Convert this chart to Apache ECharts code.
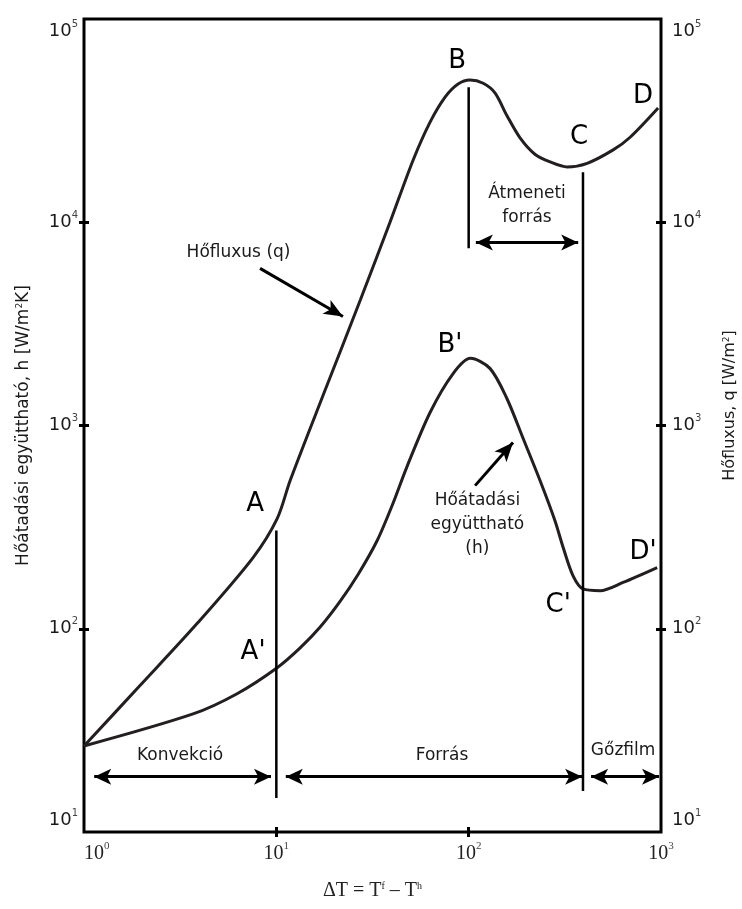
<!DOCTYPE html>
<html>
<head>
<meta charset="utf-8">
<script src="https://cdn.jsdelivr.net/npm/echarts@6/dist/echarts.min.js"></script>
<style>
  html, body { margin: 0; padding: 0; background: #fff; }
  #chart { width: 742px; height: 909px; }
</style>
</head>
<body>
<div id="chart"></div>
<script>
// Boiling curve: heat flux q and heat transfer coefficient h against ΔT (log-log)

// Heat flux q [W/m²]
const fluxDT = [1, 1.95, 3.87, 7.57, 10.1, 11.8, 17.9, 27.3, 39.0, 51.4, 63.0, 75.4, 88.1, 101.7, 119, 137, 158, 185, 221, 265, 325, 413, 564, 691, 966];
const fluxQ  = [26.5, 52.4, 106, 224, 348, 536, 1486, 4130, 10000, 20200, 31100, 41300, 47900, 50100, 48300, 43300, 33500, 26000, 21600, 19800, 18700, 19500, 22700, 26200, 36500];

// Heat transfer coefficient h [W/m²K]
const coefDT = [1, 3.69, 6.25, 10.1, 13.3, 16.9, 21.4, 26.6, 33.4, 40.0, 47.8, 63.0, 83.0, 102, 129, 158, 192, 235, 281, 310, 349, 393, 482, 635, 955];
const coefH  = [26.5, 38.1, 47.9, 64.3, 80.5, 102, 136, 185, 271, 404, 628, 1159, 1800, 2140, 1910, 1358, 863, 536, 340, 251, 182, 157, 154, 169, 200];

// Regime boundaries: [ΔT, lower end, upper end]
const boundaries = [
  [10, 14.7, 304],
  [100, 7450, 46200],
  [393, 15.9, 17600]
];

// Double-headed span arrows: [from ΔT, to ΔT, level]
const spans = [
  [1.13, 9.38, 18.7],   // Konvekció
  [11.2, 389, 18.7],    // Forrás
  [433, 977, 18.7],     // Gőzfilm
  [109, 371, 7960]      // Átmeneti forrás
];

// Pointer arrows: [from ΔT, from value, to ΔT, to value]
const pointers = [
  [8.23, 5930, 22.2, 3440],   // to q curve
  [108, 506, 170, 824]        // to h curve
];

// Point letters
const pointNames = ['A', 'B', 'C', 'D', "A'", "B'", "C'", "D'"];
const pointX = [7.75, 87.1, 375, 807, 7.57, 80, 292, 807];
const pointY = [408, 62100, 26200, 41800, 76.2, 2480, 131, 237];

// Region / curve captions
const captionText = ['Hőfluxus (q)', 'Átmeneti\nforrás', 'Hőátadási\negyüttható\n(h)', 'Konvekció', 'Forrás', 'Gőzfilm'];
const captionX = [6.36, 201, 111, 3.16, 72.7, 635];
const captionY = [7110, 12100, 325, 23.7, 23.7, 25.1];

const SANS = 'DejaVu Sans';
const SERIF = 'Liberation Serif';
const INK = '#231f20';
const TEXT = '#1a1a1a';

function powLabel(v) {
  const e = Math.round(Math.log10(v));
  return '{b|10}{s|' + e + '}';
}

const yLabelRich = {
  b: { fontFamily: SANS, fontSize: 18, color: TEXT, lineHeight: 24 },
  s: { fontFamily: SANS, fontSize: 10, color: '#444', verticalAlign: 'top' }
};
const xLabelRich = {
  b: { fontFamily: SERIF, fontSize: 20, color: '#222', lineHeight: 26 },
  s: { fontFamily: SERIF, fontSize: 11, color: '#444', verticalAlign: 'top' }
};

const tickStyle = { show: true, inside: false, length: 10, lineStyle: { color: '#000', width: 3 } };

function yAxisDef(pos, margin, nameGap, name, namePad, nameSize) {
  return {
    type: 'log', logBase: 10, min: 10, max: 100000,
    position: pos, offset: -5,
    axisLine: { show: false },
    axisTick: Object.assign({ customValues: [100, 1000, 10000] }, tickStyle),
    splitLine: { show: false },
    axisLabel: {
      margin: margin,
      formatter: powLabel,
      rich: yLabelRich,
      verticalAlignMinLabel: 'bottom',
      verticalAlignMaxLabel: 'top'
    },
    name: name,
    nameLocation: 'middle',
    nameGap: nameGap,
    nameTextStyle: {
      padding: namePad,
      rich: {
        n: { fontFamily: SANS, fontSize: nameSize, color: TEXT },
        s: { fontFamily: SANS, fontSize: 9, color: TEXT, verticalAlign: 'top' }
      }
    }
  };
}

const series = [
  {
    name: 'q', type: 'line', smooth: 0.3, symbol: 'none',
    lineStyle: { color: INK, width: 3 },
    data: fluxDT.map((x, i) => [x, fluxQ[i]])
  },
  {
    name: 'h', type: 'line', smooth: 0.3, symbol: 'none',
    lineStyle: { color: INK, width: 3 },
    data: coefDT.map((x, i) => [x, coefH[i]])
  }
];

boundaries.forEach(b => {
  series.push({
    type: 'line', symbol: 'none',
    lineStyle: { color: '#000', width: 2.5 },
    data: [[b[0], b[1]], [b[0], b[2]]]
  });
});

series.push({
  type: 'line', data: [], symbol: 'none',
  markLine: {
    silent: true,
    animation: false,
    label: { show: false },
    lineStyle: { color: '#000', width: 3, type: 'solid' },
    symbol: ['arrow', 'arrow'],
    symbolSize: [12, 17],
    data: spans.map(s => [{ coord: [s[0], s[2]] }, { coord: [s[1], s[2]] }])
      .concat(pointers.map(p => [
        { coord: [p[0], p[1]], symbol: 'none' },
        { coord: [p[2], p[3]], symbol: 'arrow', symbolSize: [12, 19] }
      ]))
  }
});

series.push({
  type: 'scatter', symbolSize: 1,
  itemStyle: { color: 'transparent', opacity: 1 },
  label: {
    show: true, position: 'inside', formatter: '{b}',
    fontFamily: SANS, fontSize: 26, color: '#000'
  },
  data: pointNames.map((n, i) => ({ name: n, value: [pointX[i], pointY[i]] }))
});

series.push({
  type: 'scatter', symbolSize: 1,
  itemStyle: { color: 'transparent', opacity: 1 },
  label: {
    show: true, position: 'inside', formatter: '{b}',
    fontFamily: SANS, fontSize: 17, color: TEXT, lineHeight: 24, align: 'center'
  },
  data: captionText.map((n, i) => ({ name: n, value: [captionX[i], captionY[i]] }))
});

const chart = echarts.init(document.getElementById('chart'), null, { renderer: 'canvas' });
chart.setOption({
  animation: false,
  backgroundColor: '#fff',
  grid: {
    left: 84, right: 81, top: 19, bottom: 77,
    outerBoundsMode: 'none',
    show: true, borderColor: '#000', borderWidth: 3, backgroundColor: 'transparent'
  },
  xAxis: {
    type: 'log', logBase: 10, min: 1, max: 1000,
    offset: -5,
    axisLine: { show: false },
    axisTick: Object.assign({ customValues: [10, 100] }, tickStyle),
    splitLine: { show: false },
    axisLabel: {
      margin: 14,
      formatter: powLabel,
      rich: xLabelRich,
      alignMinLabel: 'left',
      alignMaxLabel: 'center'
    },
    name: '{n|ΔT = T}{s|f}{n| – T}{s|h}',
    nameLocation: 'middle',
    nameGap: 54,
    nameTextStyle: {
      rich: {
        n: { fontFamily: SERIF, fontSize: 20, color: '#222' },
        s: { fontFamily: SERIF, fontSize: 10, color: '#222', verticalAlign: 'top' }
      }
    }
  },
  yAxis: [
    yAxisDef('left', 11, 57, '{n|Hőátadási együttható, h [W/m}{s|2}{n|K]}', [0, 0, 0, 0], 17),
    yAxisDef('right', 16, 66, '{n|Hőfluxus, q [W/m}{s|2}{n|]}', [0, 0, 0, 40], 16)
  ],
  series: series
});
</script>
</body>
</html>
